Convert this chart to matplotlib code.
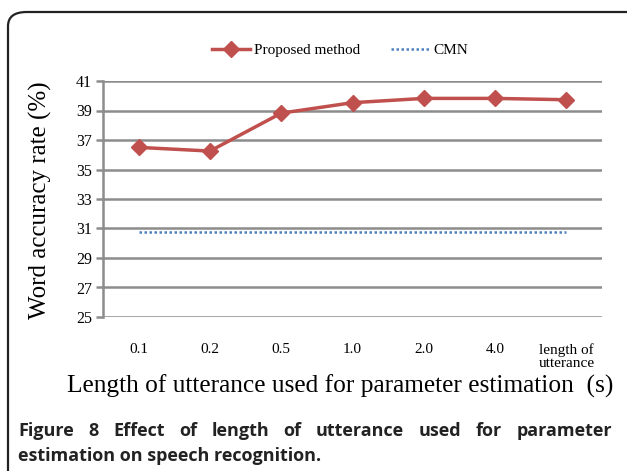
import matplotlib.pyplot as plt
from matplotlib.patches import FancyBboxPatch

categories = ['0.1', '0.2', '0.5', '1.0', '2.0', '4.0', 'length of\nutterance']
proposed = [36.5, 36.25, 38.82, 39.53, 39.82, 39.82, 39.73]
cmn = [30.75] * 7
yticks = [25, 27, 29, 31, 33, 35, 37, 39, 41]

caption1 = 'Figure 8 Effect of length of utterance used for parameter'
caption2 = 'estimation on speech recognition.'

serif = ['Liberation Serif', 'DejaVu Serif']

fig = plt.figure(figsize=(6.27, 4.71), dpi=100)

# rounded frame around the figure
frame = FancyBboxPatch((8 / 627, -0.2), 1.2, 1.2 - 12 / 471,
                       boxstyle='round,pad=0,rounding_size=0.03',
                       transform=fig.transFigure, fill=False,
                       edgecolor='#222222', linewidth=1.6, clip_on=False)
fig.patches.append(frame)

ax = fig.add_axes([103 / 627, 1 - 317 / 471, (602 - 103) / 627, (317 - 81) / 471])
x = list(range(len(categories)))

ax.plot(x, cmn, color='#4F81BD', linestyle=(0, (1, 1)), linewidth=1.8, label='CMN', zorder=3)
ax.plot(x, proposed, color='#C0504D', marker='D', markersize=8, linewidth=2.5,
        label='Proposed method', zorder=4)

ax.set_xlim(-0.5, 6.5)
ax.set_ylim(25, 41)
ax.set_yticks(yticks)
ax.set_xticks(x)
ax.set_xticklabels(categories, fontfamily=serif, fontsize=11, linespacing=1.0)
ax.set_yticklabels([str(v) for v in yticks], fontfamily=serif, fontsize=11.5)
ax.grid(axis='y', color='#8C8C8C', linewidth=1.8)
ax.set_axisbelow(True)
for s in ['top', 'right', 'bottom']:
    ax.spines[s].set_visible(False)
ax.spines['left'].set_color('#8C8C8C')
ax.spines['left'].set_linewidth(1.8)
ax.tick_params(axis='y', color='#8C8C8C', width=1.8, length=5, pad=3)
ax.tick_params(axis='x', length=0, pad=19)

fig.text(40 / 627, 1 - 200 / 471, 'Word accuracy rate (%)', fontfamily=serif,
         fontsize=18, rotation=90, ha='center', va='center')
fig.text(340 / 627, 1 - 386 / 471, 'Length of utterance used for parameter estimation  (s)',
         fontfamily=serif, fontsize=18.3, ha='center', va='center')

handles, labels = ax.get_legend_handles_labels()
fig.legend(handles[::-1], labels[::-1], loc='center', bbox_to_anchor=(340 / 627, 1 - 50 / 471),
           ncol=2, frameon=False, prop={'family': serif, 'size': 11},
           handlelength=2.5, columnspacing=2.0, handletextpad=0.3)

# justified caption, first line spread to the right edge
cap_font = dict(fontfamily='Open Sans', fontweight='bold', fontsize=13, va='center',
                color='#222222')
renderer = fig.canvas.get_renderer()
words = caption1.split(' ')
items = [fig.text(0, 1 - 431 / 471, w, **cap_font) for w in words]
widths = [t.get_window_extent(renderer).width for t in items]
x0, x1 = 18, 612
gap = (x1 - x0 - sum(widths)) / (len(words) - 1)
pos = x0
for t, w in zip(items, widths):
    t.set_x(pos / 627)
    pos += w + gap
fig.text(18 / 627, 1 - 456 / 471, caption2, **cap_font)

fig.savefig('out.png', dpi=100)
